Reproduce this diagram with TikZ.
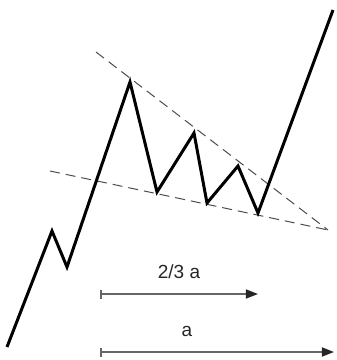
\documentclass[tikz,border=0pt]{standalone}
\usepackage{fontspec}
\setmainfont{Liberation Sans}
\usetikzlibrary{arrows.meta}
\begin{document}
\begin{tikzpicture}[x=1pt,y=-1pt,
  price/.style={line width=3pt,line join=miter,black},
  trend/.style={line width=1pt,draw=black!70,dash pattern=on 10pt off 6pt},
  measure/.style={line width=1.6pt,draw=black!60,{Bar[width=9pt,line width=1.6pt]}-{Triangle[length=12pt,width=9pt,black!85]}},
  lbl/.style={font=\fontsize{19}{22}\selectfont,text=black!85,inner sep=0pt}]
\useasboundingbox (0,0) rectangle (337,360);
% trend lines
\coordinate (u0) at (96,52);
\coordinate (l0) at (50,171);
\coordinate (apex) at (328,230);
\draw[trend] (u0) -- (apex);
\draw[trend] (l0) -- (apex);
% price path
\coordinate (p0) at (7,347);
\coordinate (p1) at (52,231);
\coordinate (p2) at (67,267);
\coordinate (p3) at (130,82);
\coordinate (p4) at (157,192);
\coordinate (p5) at (194,133);
\coordinate (p6) at (207,203);
\coordinate (p7) at (238,166);
\coordinate (p8) at (258,213);
\coordinate (p9) at (333,10);
\draw[price] (p0) -- (p1) -- (p2) -- (p3) -- (p4) -- (p5) -- (p6) -- (p7) -- (p8) -- (p9);
% measures
\coordinate (m1s) at (100,294);
\coordinate (m1e) at (258,294);
\coordinate (m2s) at (100,352);
\coordinate (m2e) at (334,352);
\draw[measure] (m1s) -- (m1e);
\draw[measure] (m2s) -- (m2e);
\node[lbl] (t1) at (179,272) {2/3 a};
\node[lbl] (t2) at (187,331) {a};
\end{tikzpicture}
\end{document}
